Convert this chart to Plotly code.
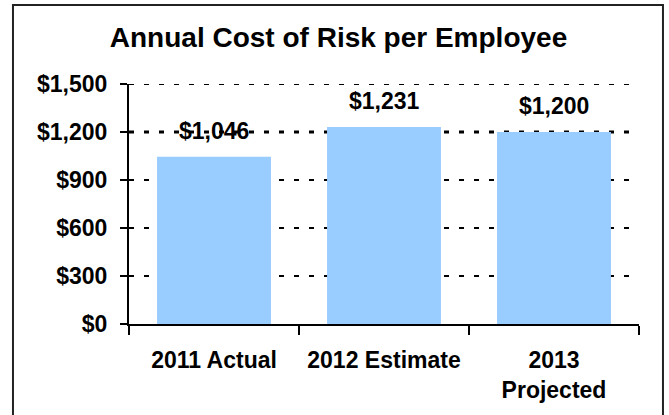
import plotly.graph_objects as go

categories = ["2011 Actual", "2012 Estimate", "2013<br>Projected"]
values = [1046, 1231, 1200]
value_labels = ["$1,046", "$1,231", "$1,200"]
tick_vals = [0, 300, 600, 900, 1200, 1500]
tick_text = ["$0", "$300", "$600", "$900", "$1,200", "$1,500"]

FONT = "Liberation Sans, Arial, sans-serif"

fig = go.Figure()
fig.add_trace(go.Bar(
    x=categories, y=values,
    marker=dict(color="#99CCFF", line=dict(width=0)),
    hoverinfo="skip",
))

for c, v, t in zip(categories, values, value_labels):
    fig.add_annotation(
        x=c, y=v, text=t, showarrow=False,
        xref="x", yref="y", yanchor="bottom", yshift=11,
        font=dict(family=FONT, size=23, color="black", weight="bold"),
    )

# thicker dotted line at 1200 and the top gridline at 1500 (as in the reference)
fig.add_shape(type="line", xref="paper", yref="y", x0=0, x1=1, y0=1200, y1=1200,
              line=dict(color="black", width=3, dash="5px,10px"), layer="below")
fig.add_shape(type="line", xref="paper", yref="y", x0=0, x1=1, y0=1500, y1=1500,
              line=dict(color="black", width=2, dash="5px,10px"), layer="below")

# outer border
fig.add_shape(type="rect", xref="paper", yref="paper",
              x0=-0.2275, x1=1.047, y0=-0.40, y1=1.329,
              line=dict(color="#222222", width=2), fillcolor="rgba(0,0,0,0)", layer="above")

fig.update_layout(
    width=669, height=415,
    margin=dict(l=129, r=30, t=84, b=91),
    paper_bgcolor="white", plot_bgcolor="white",
    bargap=0.33,
    showlegend=False,
    title=dict(text="Annual Cost of Risk per Employee", x=0.506, xanchor="center",
               xref="container", y=1 - 37 / 415, yref="container", yanchor="middle",
               font=dict(family=FONT, size=28, color="black", weight="bold")),
    font=dict(family=FONT, color="black"),
)

fig.update_yaxes(
    range=[0, 1500], tickvals=tick_vals, ticktext=tick_text,
    showgrid=True, gridcolor="black", gridwidth=2, griddash="5px,10px",
    showline=True, linecolor="black", linewidth=2,
    ticks="outside", ticklen=7, tickwidth=2, tickcolor="black",
    ticklabelstandoff=8,
    tickfont=dict(family=FONT, size=23, color="black", weight="bold"),
    zeroline=False,
)
fig.update_xaxes(
    showline=True, linecolor="black", linewidth=2,
    ticks="outside", tickson="boundaries", ticklen=9, tickwidth=2, tickcolor="black",
    ticklabelstandoff=14,
    tickfont=dict(family=FONT, size=23, color="black", weight="bold"),
    showgrid=False,
)

fig.write_html("out.html")
